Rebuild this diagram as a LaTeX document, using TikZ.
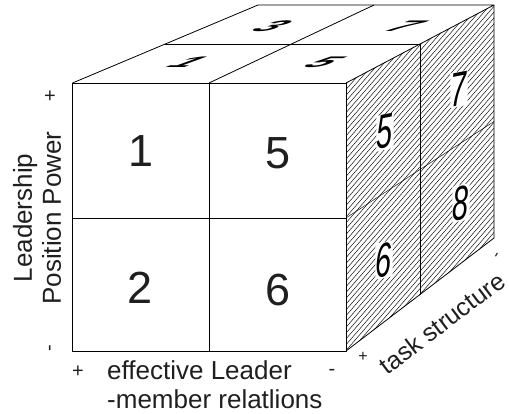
\documentclass[tikz,border=0pt]{standalone}
\usepackage{fontspec}
\setmainfont{Liberation Sans}
\begin{document}
\begin{tikzpicture}[x=1pt,y=-1pt,line join=round,
  edge/.style={line width=0.8pt},
  thinedge/.style={line width=0.45pt},
  hatchline/.style={line width=0.45pt},
  frontnum/.style={font=\fontsize{45}{45}\selectfont, text=black!88},
  sidenum/.style={font=\fontsize{48}{48}\selectfont\itshape, cm={0.6,0.12,0,1,(0,0)}, fill=white, inner sep=1pt},
  topnum/.style={font=\fontsize{48}{48}\selectfont\bfseries\itshape, cm={0.85,0,0.72,0.32,(0,0)}, inner sep=0pt},
  lab/.style={font=\fontsize{26}{29}\selectfont, text=black!88, inner sep=0pt},
  tlab/.style={font=\fontsize{25}{25}\selectfont, text=black!88, inner sep=0pt},
  sign/.style={font=\fontsize{20}{20}\selectfont, text=black!88, inner sep=0pt},
  smallsign/.style={font=\fontsize{16}{16}\selectfont, text=black!88, inner sep=0pt}]
\useasboundingbox (0,0) rectangle (509,413);
% front face
\coordinate (FTL) at (72.5,83);
\coordinate (FTM) at (209,83);
\coordinate (FTR) at (346,83);
\coordinate (FML) at (72.5,218);
\coordinate (FMR) at (346,218);
\coordinate (FBL) at (72.5,351);
\coordinate (FBM) at (209,351);
\coordinate (FBR) at (346,351);
% top face
\coordinate (BTL) at (258,5);
\coordinate (BTM) at (374,5);
\coordinate (BTR) at (494,5);
\coordinate (MTL) at (165,44);
\coordinate (MTR) at (420,44);
% right face
\coordinate (MMR) at (420,169.5);
\coordinate (BMR) at (494,121.5);
\coordinate (MBR) at (420,294.5);
\coordinate (BBR) at (494,238);
% hatch on right face
\begin{scope}
  \clip (FTR) -- (BTR) -- (BBR) -- (FBR) -- cycle;
  \foreach \c in {470,475.8,...,815} \draw[hatchline] (300,\c-300*1.15) -- (520,\c-520*1.15);
\end{scope}
% edges
\draw[edge] (FTL) rectangle (FBR);
\draw[edge] (FTM) -- (FBM);
\draw[edge] (FML) -- (FMR);
\draw[edge] (FTL) -- (BTL) -- (BTR) -- (FTR);
\draw[edge] (FTM) -- (BTM);
\draw[edge] (MTL) -- (MTR);
\draw[edge] (BTR) -- (BBR) -- (FBR);
\draw[edge] (MTR) -- (MBR);
\draw[thinedge] (FMR) -- (MMR) -- (BMR);
% front digits
\node[frontnum] (f1) at (141,151) {1};
\node[frontnum] (f5) at (278,153) {5};
\node[frontnum] (f2) at (140,288) {2};
\node[frontnum] (f6) at (278,290) {6};
% top digits
\node[topnum] (t1) at (188,62) {1};
\node[topnum] (t5) at (324,62) {5};
\node[topnum] (t3) at (272,26) {3};
\node[topnum] (t7) at (405,26) {7};
% side digits
\node[sidenum] (s5) at (385,132) {5};
\node[sidenum] (s7) at (459,89) {7};
\node[sidenum] (s6) at (384,260) {6};
\node[sidenum] (s8) at (461,203) {8};
% labels
\node[lab, rotate=90, align=center] (lpp) at (37,218) {Leadership\\Position Power};
\node[sign] (lplus) at (50,97) {+};
\node[sign, rotate=90] (lminus) at (52,348) {-};
\node[lab, align=left, anchor=west] (elm) at (107,385) {effective Leader\\-member relatlions};
\node[sign] (bplus) at (78,372) {+};
\node[sign] (bminus) at (332,372) {-};
\node[tlab, rotate=37] (ts) at (442,323) {task structure};
\node[smallsign] (tplus) at (363,357) {+};
\node[smallsign, rotate=60] (tminus) at (498,256) {-};
\end{tikzpicture}
\end{document}
